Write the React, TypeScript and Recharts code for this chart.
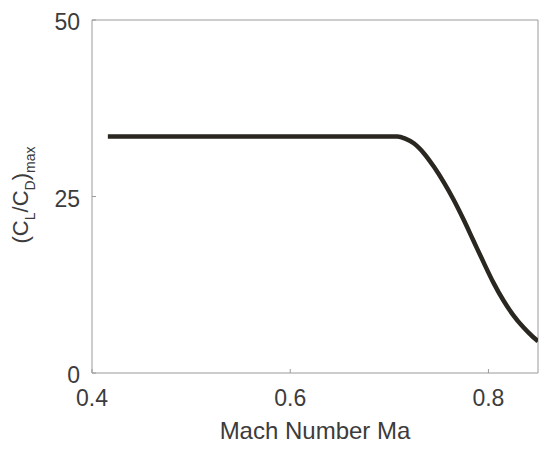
import React from 'react';
import { LineChart, Line, XAxis, YAxis, ReferenceArea } from 'recharts';

// Mach number vs max lift-to-drag ratio
const mach = [0.416, 0.708, 0.716, 0.725, 0.735, 0.745, 0.755, 0.765, 0.775, 0.785, 0.795, 0.805, 0.815, 0.825, 0.835, 0.845, 0.85];
const ldMax = [33.5, 33.5, 33.2, 32.5, 31.1, 29.2, 27.0, 24.5, 21.7, 18.7, 15.7, 12.8, 10.3, 8.2, 6.5, 5.1, 4.5];

const xTicks = [0.4, 0.6, 0.8];
const yTicks = [0, 25, 50];

const data = mach.map((m, i) => ({ mach: m, ld: ldMax[i] }));

const FONT = '"Liberation Sans", Arial, sans-serif';
const TEXT = '#3c3c3c';
const FRAME = '#9a9a9a';

const XTick = ({ x, y, payload }: any) => (
    <g>
        <line x1={x} x2={x} y1={y} y2={y - 4} stroke={FRAME} />
        <text x={x} y={y + 33} textAnchor="middle" fontSize={23} fontFamily={FONT} fill={TEXT}>
            {payload.value}
        </text>
    </g>
);

const YTick = ({ x, y, payload }: any) => (
    <g>
        <line x1={x} x2={x + 4} y1={y} y2={y} stroke={FRAME} />
        <text x={x - 12} y={y + 10} textAnchor="end" fontSize={23} fontFamily={FONT} fill={TEXT}>
            {payload.value}
        </text>
    </g>
);

const YLabel = () => (
    <text
        x={28}
        y={195}
        transform="rotate(-90, 28, 195)"
        textAnchor="middle"
        fontSize={22}
        fontFamily={FONT}
        fill={TEXT}
    >
        (C
        <tspan fontSize={14} dy={7}>L</tspan>
        <tspan dy={-7}>/C</tspan>
        <tspan fontSize={14} dy={7}>D</tspan>
        <tspan dy={-7}>)</tspan>
        <tspan fontSize={14} dy={7}>max</tspan>
    </text>
);

const XLabel = ({ viewBox }: any) => (
    <text
        x={viewBox.x + viewBox.width / 2}
        y={viewBox.y + 66}
        textAnchor="middle"
        fontSize={24}
        fontFamily={FONT}
        fill={TEXT}
    >
        Mach Number Ma
    </text>
);

const App: React.FC = () => {
    return (
        <div style={{ position: 'absolute', left: 0, top: 0, width: 550, height: 452, background: '#fff' }}>
            <LineChart width={550} height={452} data={data} margin={{ top: 20, right: 12, bottom: 0, left: 0 }}>
                <XAxis
                    dataKey="mach"
                    type="number"
                    domain={[0.4, 0.85]}
                    ticks={xTicks}
                    allowDataOverflow
                    axisLine={false}
                    tickLine={false}
                    tickSize={0}
                    tickMargin={0}
                    height={79}
                    tick={<XTick />}
                    interval={0}
                    label={<XLabel />}
                />
                <YAxis
                    type="number"
                    domain={[0, 50]}
                    ticks={yTicks}
                    allowDataOverflow
                    axisLine={false}
                    tickLine={false}
                    tickSize={0}
                    tickMargin={0}
                    width={92}
                    tick={<YTick />}
                    interval={0}
                    label={<YLabel />}
                />
                <ReferenceArea x1={0.4} x2={0.85} y1={0} y2={50} fill="none" stroke={FRAME} strokeWidth={1} ifOverflow="visible" />
                <Line
                    type="monotone"
                    dataKey="ld"
                    stroke="#2a2620"
                    strokeWidth={4.5}
                    dot={false}
                    isAnimationActive={false}
                />
            </LineChart>
        </div>
    );
};

export default App;
